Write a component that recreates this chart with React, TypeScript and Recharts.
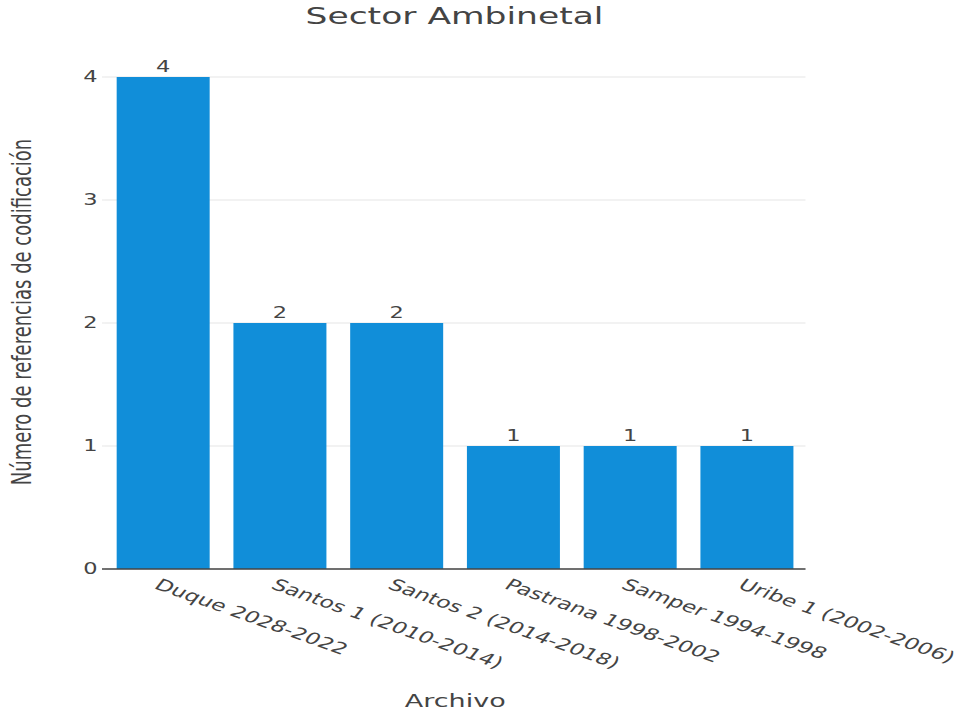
import React from 'react';
import { BarChart, Bar, XAxis, YAxis, CartesianGrid, LabelList } from 'recharts';

const categories = [
    'Duque 2028-2022',
    'Santos 1 (2010-2014)',
    'Santos 2 (2014-2018)',
    'Pastrana 1998-2002',
    'Samper 1994-1998',
    'Uribe 1 (2002-2006)'
];
const references = [4, 2, 2, 1, 1, 1];
const yTicks = [0, 1, 2, 3, 4];

const chartTitle = 'Sector Ambinetal';
const xTitle = 'Archivo';
const yTitle = 'Número de referencias de codificación';

const data = categories.map((name, i) => ({ name, value: references[i] }));

// the reference image is stretched sideways, so the chart is drawn narrow and scaled
const STRETCH = 1.5;
const W = 643;
const H = 713;
const FONT = '"DejaVu Sans", Verdana, sans-serif';
const TEXT = '#444';

const YTick = (props: any) => {
    const { x, y, payload } = props;
    const isZero = payload.value === 0;
    return (
        <g>
            <line x1={x - 2} x2={x} y1={y} y2={y} stroke={isZero ? '#444' : '#e6e6e6'} strokeWidth={isZero ? 1.5 : 1} />
            <text x={x - 5} y={y} dy={5} textAnchor="end" fill={TEXT} fontSize={15} fontFamily={FONT}>
                {payload.value}
            </text>
        </g>
    );
};

const XTick = (props: any) => {
    const { x, y, payload } = props;
    return (
        <g transform={`translate(${x - 7},${y + 19}) rotate(28)`}>
            <text x={0} y={0} textAnchor="start" fill={TEXT} fontSize={15.8} fontFamily={FONT}>
                {payload.value}
            </text>
        </g>
    );
};

const XTitle = (props: any) => {
    const { viewBox } = props;
    return (
        <text x={viewBox.x + viewBox.width / 2} y={viewBox.y + 138} textAnchor="middle" fill={TEXT} fontSize={18} fontFamily={FONT}>
            {xTitle}
        </text>
    );
};

const YTitle = () => {
    const cx = 21;
    const cy = 312;
    return (
        <text x={cx} y={cy} transform={`rotate(-90, ${cx}, ${cy})`} textAnchor="middle" fill={TEXT} fontSize={18} fontFamily={FONT}>
            {yTitle}
        </text>
    );
};

const App: React.FC = () => {
    return (
        <div
            style={{
                position: 'absolute',
                left: 0,
                top: 0,
                width: W,
                height: H,
                background: '#fff',
                transform: `scaleX(${STRETCH})`,
                transformOrigin: '0 0'
            }}
        >
            <div
                style={{
                    position: 'absolute',
                    left: 0,
                    top: 4.5,
                    width: 606,
                    textAlign: 'center',
                    fontFamily: FONT,
                    fontSize: 23,
                    lineHeight: '23px',
                    color: TEXT
                }}
            >
                {chartTitle}
            </div>
            <BarChart width={W} height={H} data={data} margin={{ top: 77, right: 106, left: 0, bottom: 0 }} barCategoryGap="10%">
                <CartesianGrid vertical={false} stroke="#e6e6e6" />
                <XAxis
                    dataKey="name"
                    interval={0}
                    height={144}
                    tick={<XTick />}
                    tickLine={false}
                    tickSize={0}
                    tickMargin={0}
                    axisLine={{ stroke: '#444', strokeWidth: 1.5 }}
                    label={<XTitle />}
                />
                <YAxis
                    width={70}
                    domain={[0, 4]}
                    ticks={yTicks}
                    tick={<YTick />}
                    tickLine={false}
                    tickSize={0}
                    tickMargin={0}
                    axisLine={false}
                    label={<YTitle />}
                />
                <Bar dataKey="value" fill="#118ed9" isAnimationActive={false}>
                    <LabelList dataKey="value" position="top" offset={5} fill={TEXT} fontSize={15} fontFamily={FONT} />
                </Bar>
            </BarChart>
        </div>
    );
};

export default App;
